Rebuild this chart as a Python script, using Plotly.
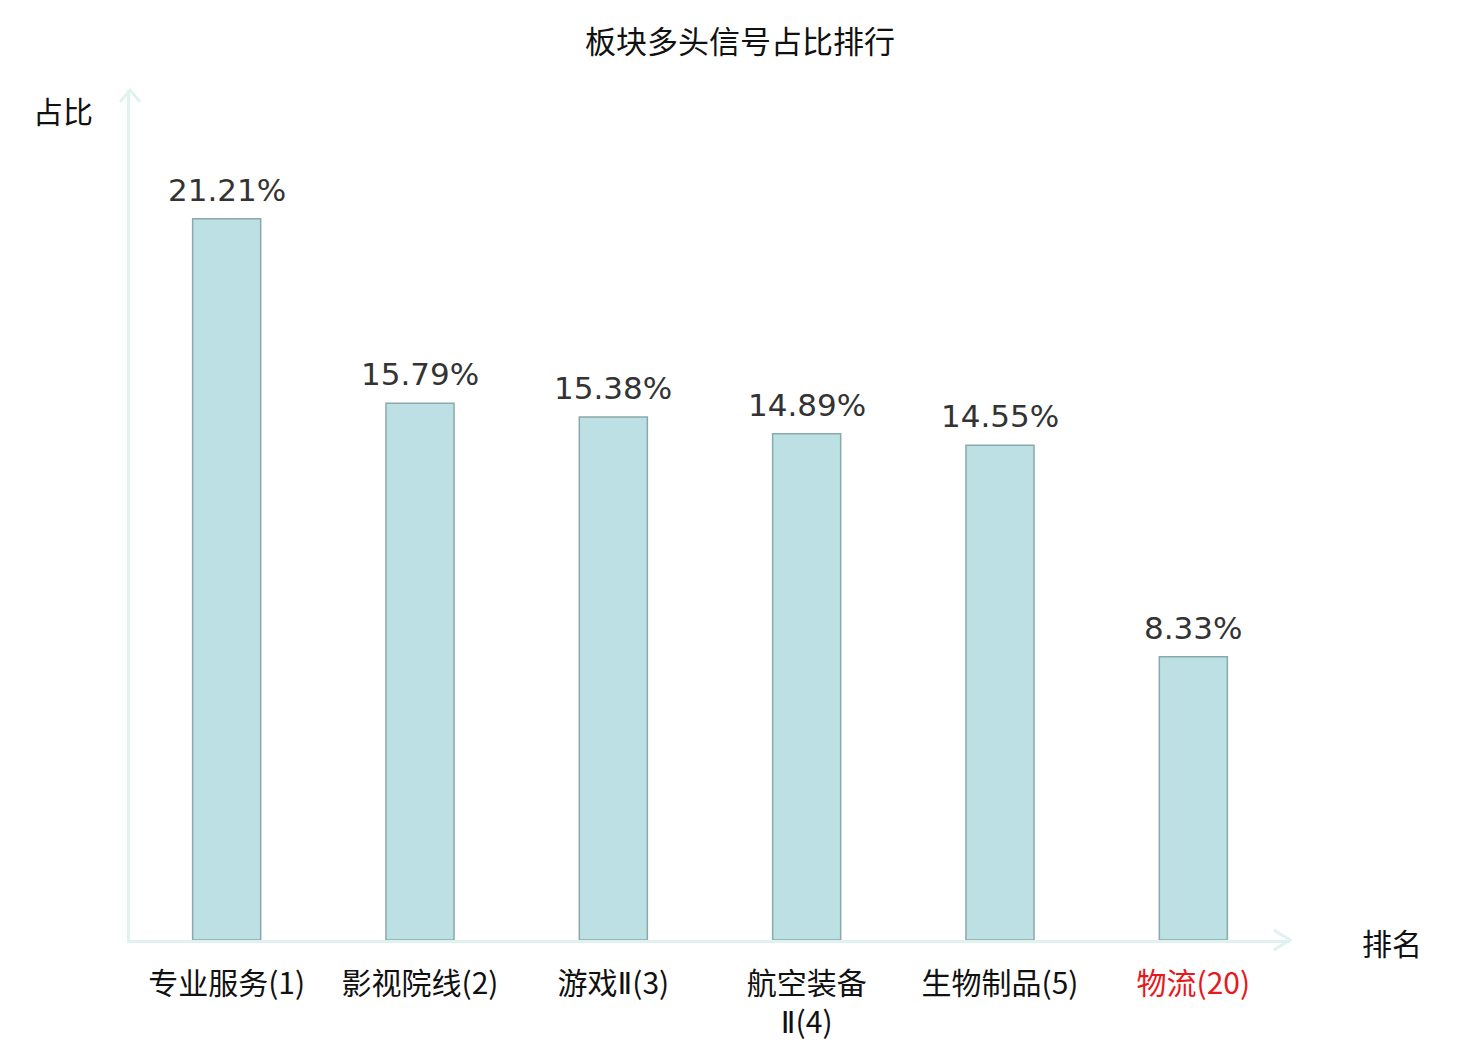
import plotly.graph_objects as go

# data
categories = ["专业服务(1)", "影视院线(2)", "游戏Ⅱ(3)", "航空装备<br>Ⅱ(4)", "生物制品(5)", "物流(20)"]
shares = [21.21, 15.79, 15.38, 14.89, 14.55, 8.33]
share_labels = ["21.21%", "15.79%", "15.38%", "14.89%", "14.55%", "8.33%"]

axis_color = "#dff2ef"
cjk = "Noto Sans CJK SC"

# narrow roman numeral, last category (the highlighted one) in red
tick_text = [c.replace("Ⅱ", "<span style=\"font-family:'DejaVu Sans'\">Ⅱ</span>") for c in categories]
tick_text[-1] = '<span style="color:#e8191c">' + tick_text[-1] + "</span>"
xs = list(range(len(categories)))

fig = go.Figure(
    go.Bar(
        x=xs,
        y=shares,
        width=0.352,
        marker=dict(color="#bce0e3", line=dict(color="#8aa9a9", width=1.5)),
    )
)

# value labels above the bars
for x, y, lab in zip(xs, shares, share_labels):
    fig.add_annotation(x=x, y=y, text=lab, showarrow=False,
                       xanchor="center", yanchor="bottom", yshift=9,
                       font=dict(family="DejaVu Sans", size=31, color="#333333"))

fig.update_layout(
    width=1480,
    height=1040,
    margin=dict(l=122, r=198, t=82, b=108),
    plot_bgcolor="white",
    paper_bgcolor="white",
    showlegend=False,
    title=dict(
        text="板块多头信号占比排行",
        x=0.4946,
        xanchor="center",
        y=0.967,
        yanchor="middle",
        font=dict(family=cjk, size=31, color="#111111"),
    ),
    xaxis=dict(
        range=[-0.5, 5.5],
        tickvals=xs,
        ticktext=tick_text,
        showgrid=False,
        zeroline=False,
        showline=True,
        linecolor=axis_color,
        linewidth=3,
        ticks="outside",
        ticklen=15,
        tickcolor="rgba(0,0,0,0)",
        tickfont=dict(family=cjk, size=30, color="#111111"),
        automargin=False,
    ),
    yaxis=dict(
        range=[0, 25],
        showgrid=False,
        zeroline=False,
        showline=True,
        linecolor=axis_color,
        linewidth=3,
        showticklabels=False,
        automargin=False,
    ),
)

# arrow heads on both axes (open chevrons)
fig.add_shape(type="path", xref="paper", yref="paper",
              path="M -0.0086 0.986 L 0 1 L 0.0086 0.986",
              line=dict(color=axis_color, width=3))
fig.add_shape(type="path", xref="paper", yref="paper",
              path="M 0.986 0.0118 L 1 0 L 0.986 -0.0118",
              line=dict(color=axis_color, width=3))

fig.add_annotation(text="占比", xref="paper", yref="paper", x=-0.0578, y=0.9765,
                   xanchor="center", yanchor="middle", showarrow=False,
                   font=dict(family=cjk, size=30, color="#111111"))
fig.add_annotation(text="排名", xref="paper", yref="paper", x=1.0879, y=-0.0024,
                   xanchor="center", yanchor="middle", showarrow=False,
                   font=dict(family=cjk, size=30, color="#111111"))

fig.write_html("out.html")
